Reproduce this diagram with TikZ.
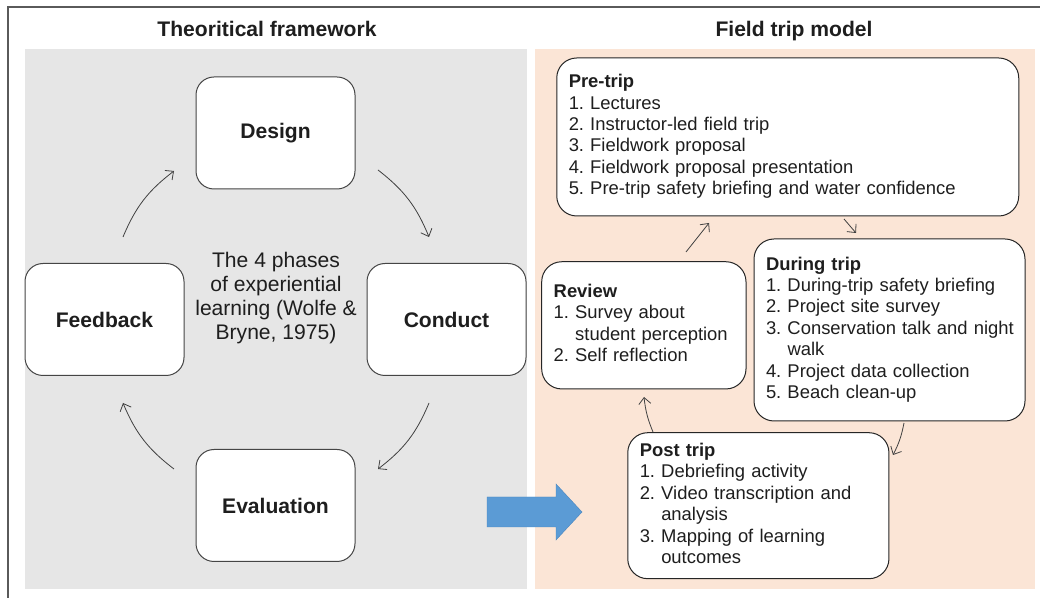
\documentclass[tikz,border=0pt]{standalone}
\usepackage{xcolor}
\usepackage{fontspec}
\setmainfont{Liberation Sans}
\usepackage{tikz}
\usetikzlibrary{calc}
\usetikzlibrary{arrows.meta}

\definecolor{panelgray}{HTML}{E6E6E6}
\definecolor{panelpink}{HTML}{FBE5D6}
\definecolor{arrowblue}{HTML}{5B9BD5}
\definecolor{arrowedge}{HTML}{4A86BE}
\definecolor{framegray}{HTML}{5A5A5A}
\definecolor{boxline}{HTML}{454545}
\definecolor{textdark}{HTML}{1E1E1E}

\frenchspacing
\newcommand{\phasefont}{\fontsize{15pt}{17pt}\selectfont}
\newcommand{\tripfont}{\fontsize{13.1pt}{15.2pt}\selectfont}
\newcommand{\itemhang}{\hphantom{1. }}
\newcommand{\steplist}[1]{\begin{tabular}{@{}l@{}}#1\end{tabular}}

\tikzset{
    phasebox/.style={draw=boxline, line width=0.025cm, rounded corners=0.45cm, fill=white,
        minimum width=3.975cm, minimum height=2.8cm, font=\phasefont\bfseries, text=textdark},
    tripbox/.style={draw=black!85, line width=0.025cm, rounded corners=0.5cm, fill=white,
        align=left, inner xsep=0.3cm, font=\tripfont, text=textdark},
    paneltitle/.style={anchor=base, font=\phasefont\bfseries, text=textdark},
    phasearrow/.style={-{Straight Barb[length=0.16cm, width=0.3cm]}, line width=0.02cm, draw=black!75},
}

\begin{document}
\begin{tikzpicture}
            \useasboundingbox (0.000000,0.000000) rectangle (26.000000,14.950000);
            
            % Outer frame (cut at the right and bottom)
            \draw [framegray, line width=0.05cm] (0.187500,0.000000) -- (0.187500,14.775000) -- (26.000000,14.775000);%
            
            % Panels
            \fill [panelgray] (0.625000,0.225000) rectangle (13.175000,13.712500);%
            \fill [panelpink] (13.375000,0.225000) rectangle (25.875000,13.712500);%
            
            % Panel titles
            \node (frametitle) [paneltitle] at (6.675000,14.040000) {Theoritical framework};%
            \node (modeltitle) [paneltitle] at (19.850000,14.040000) {Field trip model};%
            
            % The four phases
            \node (design) [phasebox] at (6.887500,11.625000) {Design};%
            \node (feedback) [phasebox] at (2.612500,6.962500) {Feedback};%
            \node (conduct) [phasebox] at (11.162500,6.962500) {Conduct};%
            \node (evaluation) [phasebox] at (6.887500,2.312500) {Evaluation};%
            \node (phases) [align=center, font=\phasefont, text=textdark] at (6.900000,7.500000)
                {The 4 phases\\ of experiential\\ learning (Wolfe \&\\ Bryne, 1975)};%
            
            % Ends of the cycle arrows
            \coordinate (fb-out) at (3.075000,9.025000);
            \coordinate (de-in) at (4.350000,10.675000);
            \coordinate (de-out) at (9.450000,10.700000);
            \coordinate (co-in) at (10.725000,9.025000);
            \coordinate (co-out) at (10.725000,4.875000);
            \coordinate (ev-in) at (9.450000,3.225000);
            \coordinate (ev-out) at (4.350000,3.225000);
            \coordinate (fb-in) at (3.075000,4.875000);
            
            % Drawing the cycle
            \draw [phasearrow] (fb-out) to [bend left=15] (de-in);%
            \draw [phasearrow] (de-out) to [bend left=15] (co-in);%
            \draw [phasearrow] (co-out) to [bend left=15] (ev-in);%
            \draw [phasearrow] (ev-out) to [bend left=15] (fb-in);%
            
            % Block arrow into the model
            \draw [fill=arrowblue, draw=arrowedge, line width=0.01cm] (12.175000,2.525000) -- (13.900000,2.525000) -- (13.900000,2.850000) -- (14.550000,2.150000) -- (13.900000,1.450000) -- (13.900000,1.775000) -- (12.175000,1.775000) -- cycle;%
            
            % The four stages of the trip
            \node (pretrip) [tripbox, text width=10.950000cm, minimum height=3.950000cm] at (19.693750,11.525000)
                {\steplist{\textbf{Pre-trip}\\ 1. Lectures\\ 2. Instructor-led field trip\\ 3. Fieldwork proposal\\
                 4. Fieldwork proposal presentation\\ 5. Pre-trip safety briefing and water confidence}};%
            \node (duringtrip) [tripbox, text width=6.175000cm, minimum height=4.550000cm] at (22.237500,6.700000)
                {\steplist{\textbf{During trip}\\ 1. During-trip safety briefing\\ 2. Project site survey\\
                 3. Conservation talk and night\\ \itemhang walk\\ 4. Project data collection\\ 5. Beach clean-up}};%
            \node (review) [tripbox, text width=4.507500cm, minimum height=3.180000cm] at (16.096250,6.816250)
                {\steplist{\textbf{Review}\\ 1. Survey about\\ \itemhang student perception\\ 2. Self reflection}};%
            \node (posttrip) [tripbox, text width=5.930000cm, minimum height=3.650000cm] at (18.958750,2.307500)
                {\steplist{\textbf{Post trip}\\ 1. Debriefing activity\\ 2. Video transcription and\\ \itemhang analysis\\
                 3. Mapping of learning\\ \itemhang outcomes}};%
            
            % Ends of the trip arrows
            \coordinate (rv-out) at (17.150000,8.650000);
            \coordinate (pt-in) at (17.725000,9.375000);
            \coordinate (pt-out) at (21.100000,9.475000);
            \coordinate (dt-in) at (21.400000,9.125000);
            \coordinate (dt-out) at (22.600000,4.375000);
            \coordinate (po-in) at (22.325000,3.575000);
            \coordinate (po-out) at (16.325000,4.150000);
            \coordinate (rv-in) at (16.100000,5.025000);
            
            % Drawing the trip cycle
            \draw [phasearrow] (rv-out) -- (pt-in);%
            \draw [phasearrow] (pt-out) -- (dt-in);%
            \draw [phasearrow] (dt-out) to [bend left=8] (po-in);%
            \draw [phasearrow] (po-out) to [bend left=8] (rv-in);%
\end{tikzpicture}
\end{document}
